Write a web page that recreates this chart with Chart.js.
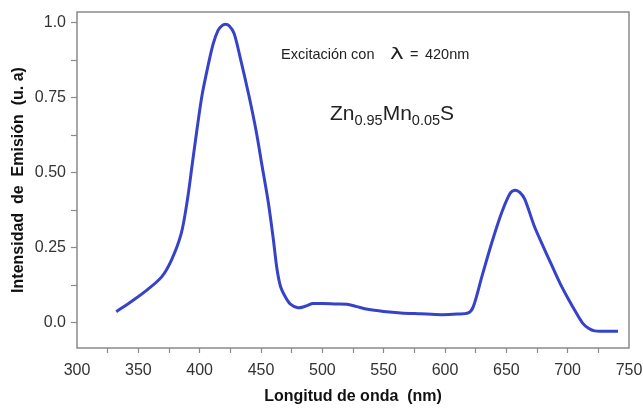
<!DOCTYPE html>
<html>
<head>
<meta charset="utf-8">
<script src="https://cdn.jsdelivr.net/npm/chart.js@4.4.1/dist/chart.umd.min.js"></script>
<style>
  html, body { margin: 0; padding: 0; background: #fff; }
</style>
</head>
<body>
<canvas id="chart" width="643" height="408"></canvas>
<script>
////////////
//// Data

let wavelength = [332, 345, 357, 369, 377, 385, 390, 394, 398, 402, 407, 411, 415, 418, 421, 424,
	428, 433, 440, 446, 451, 456, 460, 463, 466, 470, 474, 480, 486, 492, 500, 510, 520, 528, 537,
	550, 564, 580, 597, 610, 619, 623, 630, 638, 646, 653, 657, 661, 665, 673, 680, 687, 694,
	701, 706, 712, 717, 722, 730, 741];

let intensity = [0.037, 0.073, 0.109, 0.153, 0.209, 0.298, 0.41, 0.53, 0.65, 0.76, 0.86, 0.93,
	0.975, 0.99, 0.995, 0.99, 0.965, 0.885, 0.76, 0.64, 0.52, 0.4, 0.28, 0.18, 0.12, 0.085, 0.062,
	0.05, 0.055, 0.064, 0.064, 0.063, 0.062, 0.054, 0.045, 0.038, 0.033, 0.03, 0.027, 0.029, 0.033,
	0.053, 0.153, 0.265, 0.365, 0.431, 0.442, 0.435, 0.412, 0.32, 0.255, 0.192, 0.13, 0.076, 0.04,
	0.0, -0.018, -0.027, -0.028, -0.028];

let xLabels = [300, 350, 400, 450, 500, 550, 600, 650, 700, 750];
let yLabels = {'0': '0.0', '0.25': '0.25', '0.5': '0.50', '0.75': '0.75', '1': '1.0'};

let xTitle = 'Longitud de onda  (nm)';
let yTitle = 'Intensidad  de  Emisión  (u. a)';

////////////
//// Plugins

let frame = {
	id: 'frame',
	afterDatasetsDraw(chart) {
		let a = chart.chartArea;
		let c = chart.ctx;
		c.save();
		c.strokeStyle = '#8a8a8a';
		c.lineWidth = 1.5;
		c.strokeRect(a.left, a.top, a.right - a.left, a.bottom - a.top);
		c.restore();
	}
};

// annotation texts, anchored in data units
let notes = {
	id: 'notes',
	afterDraw(chart) {
		let c = chart.ctx;
		let sx = chart.scales.x, sy = chart.scales.y;
		c.save();
		c.fillStyle = '#222';
		c.textBaseline = 'alphabetic';

		// Excitación con λ = 420nm
		let x0 = sx.getPixelForValue(466.3);
		let y0 = sy.getPixelForValue(0.879);
		c.font = '14.5px "Liberation Sans", Arial, sans-serif';
		c.fillText('Excitación con', x0, y0);
		c.save();
		c.translate(x0 + 109, y0);
		c.scale(1.45, 1);
		c.font = '16px "DejaVu Sans", sans-serif';
		c.fillText('λ', 0, 0);
		c.restore();
		c.fillText('=', x0 + 129, y0);
		c.fillText('420nm', x0 + 144, y0);

		// Zn0.95Mn0.05S
		let x = sx.getPixelForValue(506.2);
		let y = sy.getPixelForValue(0.676);
		let parts = [['Zn', 0], ['0.95', 1], ['Mn', 0], ['0.05', 1], ['S', 0]];
		for (let p of parts) {
			c.font = p[1] ? '14.5px "Liberation Sans", Arial, sans-serif' : '21px "Liberation Sans", Arial, sans-serif';
			c.fillText(p[0], x, y + (p[1] ? 4.5 : 0));
			x += c.measureText(p[0]).width;
		}
		c.restore();
	}
};

////////////
//// Chart

let ctx = document.getElementById('chart').getContext('2d');
let font = {family: '"Liberation Sans", Arial, sans-serif', size: 16};

let chart = new Chart(ctx, {
	type: 'line',
	data: {
		datasets: [{
			data: wavelength.map((w, i) => ({x: w, y: intensity[i]})),
			borderColor: '#3643c9',
			borderWidth: 3,
			pointRadius: 0,
			tension: 0.3,
			fill: false
		}]
	},
	options: {
		responsive: false,
		animation: false,
		layout: {padding: {top: 12, right: 14, left: 0, bottom: 0}},
		plugins: {legend: {display: false}, tooltip: {enabled: false}},
		scales: {
			x: {
				type: 'linear',
				min: 300,
				max: 750,
				afterFit(s) { s.height = 60; s.paddingLeft = 0; s.paddingRight = 0; },
				border: {display: false},
				grid: {
					drawOnChartArea: false,
					tickLength: 5,
					tickWidth: 1.2,
					tickColor: c => (c.tick && (c.tick.value === 300 || c.tick.value === 750)) ? 'rgba(0,0,0,0)' : '#8a8a8a'
				},
				ticks: {
					stepSize: 25,
					autoSkip: false,
					maxRotation: 0,
					padding: 8,
					color: '#333',
					font: font,
					callback: v => xLabels.includes(v) ? String(v) : ''
				},
				title: {
					display: true,
					text: xTitle,
					color: '#111',
					font: {family: font.family, size: 16, weight: 'bold'},
					padding: {top: 0, bottom: 2}
				}
			},
			y: {
				min: -0.084,
				max: 1.036,
				afterFit(s) { s.width = 77; s.paddingTop = 0; s.paddingBottom = 0; },
				border: {display: false},
				grid: {
					drawOnChartArea: false,
					tickLength: 6,
					tickWidth: 1.2,
					tickColor: '#8a8a8a'
				},
				ticks: {
					stepSize: 0.125,
					includeBounds: false,
					autoSkip: false,
					padding: 5,
					color: '#333',
					font: font,
					callback: v => yLabels[String(Math.round(v * 1000) / 1000)] || ''
				},
				title: {
					display: true,
					text: yTitle,
					color: '#111',
					font: {family: font.family, size: 16, weight: 'bold'},
					padding: {top: 9, bottom: 0}
				}
			}
		}
	},
	plugins: [frame, notes]
});
</script>
</body>
</html>
